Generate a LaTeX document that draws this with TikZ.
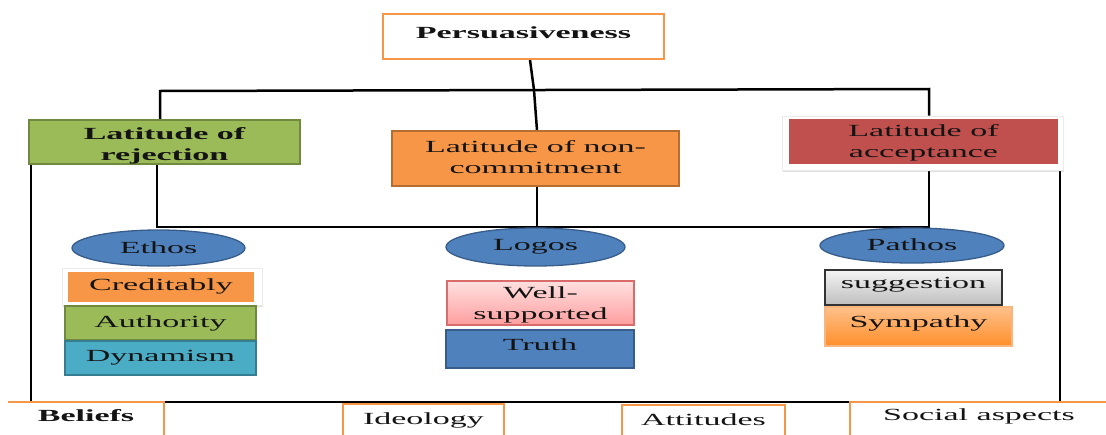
\documentclass[tikz,border=0pt]{standalone}
\usepackage{fontspec}
\setmainfont{Liberation Serif}[FakeStretch=2.0]
\usetikzlibrary{shapes.geometric,backgrounds,shadows}
\definecolor{org}{HTML}{F79646}
\definecolor{orgD}{HTML}{B66D31}
\definecolor{grn}{HTML}{9BBB59}
\definecolor{grnD}{HTML}{71893F}
\definecolor{redb}{HTML}{C0504D}
\definecolor{blu}{HTML}{4F81BD}
\definecolor{bluD}{HTML}{385D8A}
\definecolor{teal}{HTML}{4BACC6}
\definecolor{tealD}{HTML}{357D91}
\definecolor{pinkT}{HTML}{FFE0E0}
\definecolor{pinkB}{HTML}{FF9E9E}
\definecolor{pinkD}{HTML}{D96B6B}
\definecolor{grayT}{HTML}{F4F4F4}
\definecolor{grayB}{HTML}{BEBEBE}
\definecolor{sympT}{HTML}{FFC08A}
\definecolor{sympB}{HTML}{FF8F2A}
\definecolor{txt}{HTML}{141414}
\begin{document}
\begin{tikzpicture}[x=1pt,y=-1pt,
  font=\fontsize{17}{21}\selectfont, text=txt,
  conn/.style={line width=2.5pt, black},
  box/.style={rectangle, inner sep=0pt, align=center, line width=1.3pt},
  lbl/.style={inner sep=0pt, align=center, text=txt},
  ell/.style={ellipse, fill=blu, draw=bluD, line width=1.3pt, inner sep=0pt},
  glow/.style={rectangle, fill=white, draw=black!8, line width=0.6pt, inner sep=0pt,
    drop shadow={opacity=0.25, shadow xshift=1pt, shadow yshift=-1.5pt}},
  obox/.style={draw=org, line width=2.2pt},
  bbox/.style={rectangle, fill=white, inner sep=0pt, align=center}]
\useasboundingbox (0,0) rectangle (1106,434);

% top box
\node[box, draw=org, line width=1.8pt, fill=white, minimum width=281pt, minimum height=45pt] (p) at (523.5,36.5) {\raisebox{7pt}{\bfseries Persuasiveness}};

% latitudes
\node[box, draw=grnD, fill=grn, minimum width=271pt, minimum height=44pt,
  label={[lbl, font=\fontsize{17}{21}\selectfont\bfseries, yshift=-3.5pt]center:Latitude of\\rejection}] (rej) at (164.5,142) {};
\node[box, draw=orgD, fill=org, minimum width=287pt, minimum height=55pt,
  label={[lbl, yshift=1.5pt]center:Latitude of non-\\commitment}] (nc) at (535.5,158.5) {};
\node[glow, minimum width=281pt, minimum height=54pt] (accg) at (922.5,143) {};
\node[box, fill=redb, minimum width=269pt, minimum height=45pt,
  label={[lbl, yshift=-1.5pt]center:Latitude of\\acceptance}] (acc) at (923.5,141.5) {};

% ellipses
\node[ell, minimum width=173pt, minimum height=36pt] (ethos) at (158.5,248) {Ethos};
\node[ell, minimum width=179pt, minimum height=38pt] (logos) at (535.5,247) {\raisebox{2pt}{Logos}};
\node[ell, minimum width=184pt, minimum height=35pt] (pathos) at (912,245.5) {\raisebox{1pt}{Pathos}};

% ethos column
\node[glow, minimum width=200pt, minimum height=37pt] (credg) at (162,286.5) {};
\node[box, fill=org, minimum width=186pt, minimum height=30pt] (cred) at (161,287) {\raisebox{4pt}{Creditably}};
\node[box, draw=grnD, fill=grn, minimum width=191pt, minimum height=34pt] (auth) at (160.5,323) {\raisebox{3pt}{Authority}};
\node[box, draw=tealD, fill=teal, minimum width=191pt, minimum height=34pt] (dyn) at (160.5,358) {\raisebox{3pt}{Dynamism}};

% logos column
\node[box, draw=pinkD, top color=pinkT, bottom color=pinkB, minimum width=187pt, minimum height=44pt,
  label={[lbl, yshift=-1.5pt]center:Well-\\supported}] (well) at (540.5,303) {};
\node[box, draw=bluD, fill=blu, minimum width=188pt, minimum height=38pt] (truth) at (540,349) {\raisebox{8pt}{Truth}};

% pathos column
\node[box, draw=black!80, top color=grayT, bottom color=grayB, minimum width=177pt, minimum height=35pt] (sugg) at (913.5,287.5) {\raisebox{9pt}{suggestion}};
\node[box, draw=org!70, top color=sympT, bottom color=sympB, minimum width=187pt, minimum height=39pt] (symp) at (918.5,326.5) {\raisebox{9pt}{Sympathy}};

% bottom boxes
\node[bbox, minimum width=156pt, minimum height=34pt] (bel) at (86,419) {\raisebox{6pt}{\bfseries Beliefs}};
\draw[obox] (bel.north west) -- (bel.north east) -- (bel.south east);
\node[bbox, minimum width=161pt, minimum height=32pt] (ideo) at (423.5,420) {Ideology};
\draw[obox] (ideo.south west) -- (ideo.north west) -- (ideo.north east) -- (ideo.south east);
\node[bbox, minimum width=163pt, minimum height=31pt] (att) at (703.5,420.5) {\raisebox{1pt}{Attitudes}};
\draw[obox] (att.south west) -- (att.north west) -- (att.north east) -- (att.south east);
\node[bbox, minimum width=258pt, minimum height=34pt] (soc) at (979,419) {\raisebox{8pt}{Social aspects}};
\draw[obox] (soc.south west) -- (soc.north west) -- (soc.north east);

% connectors
\coordinate (pt) at (530,59);
\coordinate (j0) at (534,90);
\coordinate (h1) at (160,91);
\coordinate (h2) at (929,89);
\coordinate (b0) at (537,227);
\coordinate (b1) at (157,227);
\coordinate (b2) at (929,227);
\coordinate (fl) at (31,402);
\coordinate (fr) at (1060,402);
\begin{scope}[on background layer]
\fill[white] (0,0) rectangle (1106,434);
\draw[conn] (p.south -| pt) -- (j0);
\draw[conn] (rej.north -| h1) -- (h1) -- (h2) -- (accg.north -| h2);
\draw[conn] (j0) -- (nc.north -| b0);
\draw[conn] (rej.south -| b1) -- (b1) -- (b2) -- (acc.south -| b2);
\draw[conn] (nc.south -| b0) -- (b0);
\draw[conn] (rej.south -| fl) -- (fl) -- (fr) -- (acc.south -| fr);
\end{scope}
\end{tikzpicture}
\end{document}
